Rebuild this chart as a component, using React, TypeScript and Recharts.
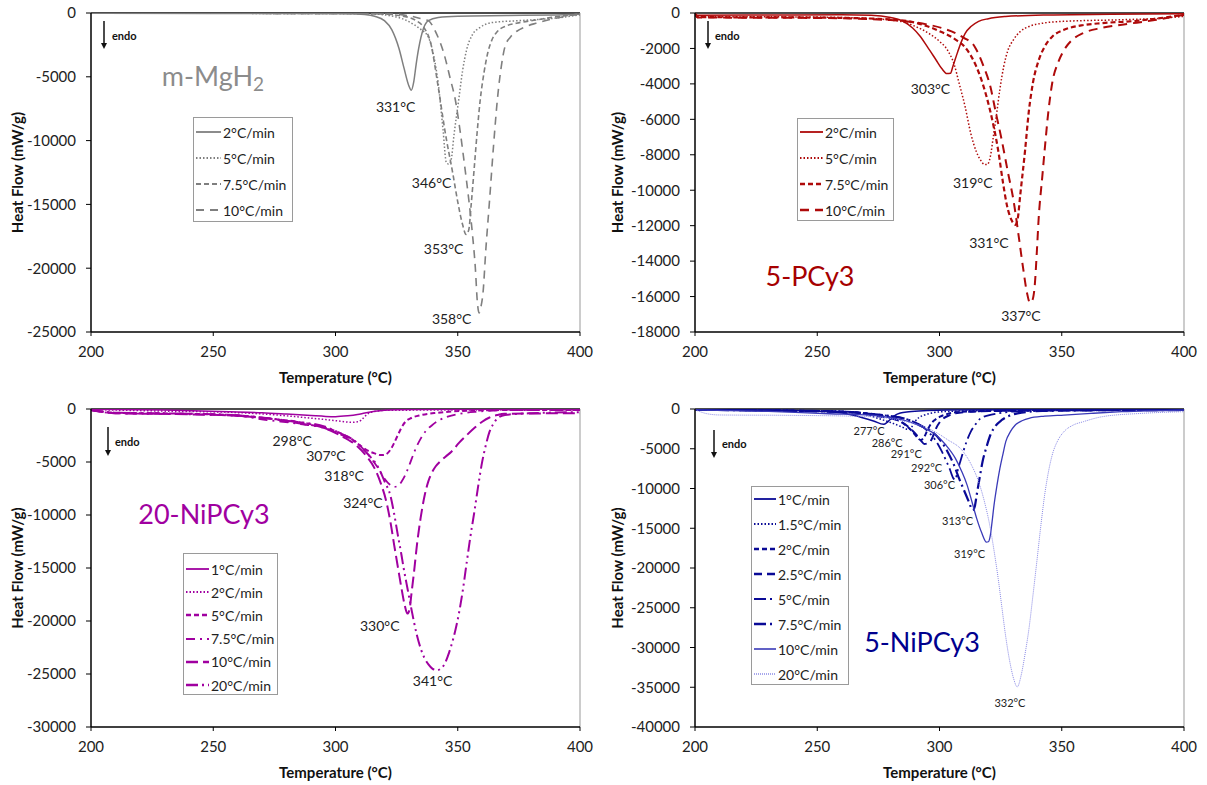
import React from 'react';
import { LineChart, Line, XAxis, YAxis, ReferenceLine, ReferenceDot } from 'recharts';

type Pt = [number, number];

// ---- m-MgH2 (temperature °C, heat flow mW/g)
const mg2: Pt[] = [[200, -20], [250, -30], [290, -40], [305, -60], [312, -120], [316, -250], [320, -600], [323, -1300], [326, -2800], [328, -4300], [330, -5700], [331, -6050], [332, -5400], [333, -4000], [334, -2800], [336, -1200], [338, -600], [342, -350], [350, -250], [370, -200], [390, -150], [400, -100]];
const mg5: Pt[] = [[200, -20], [300, -40], [315, -80], [322, -200], [328, -500], [332, -900], [335, -1300], [338, -1900], [340, -3200], [342, -5500], [344, -9200], [345.3, -11700], [346.3, -11850], [347.3, -11500], [348.5, -9500], [350.4, -6800], [352, -4500], [353.6, -2900], [356, -1700], [359, -1150], [364, -750], [375, -600], [390, -400], [400, -150]];
const mg75: Pt[] = [[200, -20], [300, -30], [320, -80], [326, -200], [330, -350], [333, -600], [336, -1100], [339, -2400], [342, -5800], [345, -9500], [348, -12600], [350, -14800], [352, -16600], [353.4, -17350], [354.5, -17000], [355.5, -15000], [356.8, -12000], [358, -9200], [359.2, -6800], [360.8, -4600], [362.3, -3100], [364, -2100], [366.2, -1450], [370, -1000], [374, -800], [382, -550], [390, -300], [400, -100]];
const mg10: Pt[] = [[200, -20], [300, -30], [325, -100], [332, -300], [336, -500], [338, -600], [341, -1500], [344.3, -3150], [347, -5200], [349, -6800], [351, -9300], [352.9, -12100], [354.5, -14600], [356, -17300], [357.2, -20000], [358, -22600], [358.7, -23500], [359.5, -23000], [360.3, -22000], [361.5, -18500], [363, -14700], [364.6, -10500], [366.2, -6800], [367.8, -4200], [369.3, -2650], [371.5, -1900], [374, -1450], [378, -1050], [382, -800], [393, -300], [400, -50]];

// ---- 5-PCy3
const pc2: Pt[] = [[200, -10], [201, -120], [230, -110], [260, -100], [272, -120], [280, -250], [285, -450], [289, -850], [292, -1300], [295, -1900], [298.6, -2650], [301, -3150], [303, -3420], [304.5, -3400], [305.5, -3000], [307.3, -2250], [309, -1600], [310.5, -1150], [313, -750], [316, -470], [320, -320], [327, -200], [343, -110], [370, -70], [400, -40]];
const pc5: Pt[] = [[200, -50], [201, -200], [250, -230], [270, -300], [280, -400], [285, -500], [290, -750], [295.4, -1130], [300, -1600], [303.3, -2100], [306, -2900], [308, -3950], [310.5, -5300], [312.8, -6800], [315, -7800], [316.8, -8300], [318.5, -8550], [319.5, -8550], [320.8, -8100], [322, -7000], [323.2, -5850], [324.7, -4300], [326.3, -3000], [328, -2100], [330.3, -1500], [333, -1050], [336.6, -760], [343, -560], [350.8, -470], [374.6, -380], [390, -300], [400, -190]];
const pc75: Pt[] = [[200, -50], [201, -230], [250, -260], [275, -330], [287.5, -470], [295, -750], [300.3, -1040], [306, -1450], [311.3, -2080], [315, -3000], [319.2, -4700], [322, -6300], [324, -7750], [326, -9600], [327.5, -10800], [329.5, -11700], [331, -11950], [332, -11600], [333, -10300], [335, -7750], [336.5, -5600], [338.2, -3950], [340.5, -2700], [343, -1900], [346, -1350], [350.9, -950], [358, -700], [366.7, -570], [380, -450], [400, -100]];
const pc10: Pt[] = [[200, -50], [201, -250], [250, -280], [280, -400], [295.4, -660], [301, -850], [306.5, -1130], [310, -1400], [314.4, -1900], [318, -3000], [320.8, -4150], [323, -5600], [325.5, -7200], [328, -9000], [330.3, -10600], [332.3, -12500], [334.2, -14400], [335.8, -15800], [337, -16350], [338, -16200], [339, -15300], [339.8, -13500], [340.6, -11500], [342, -9300], [343, -7750], [344.5, -5600], [346.1, -3950], [348.5, -2800], [350.9, -2100], [354, -1550], [358.8, -1130], [366, -850], [374.6, -660], [388, -400], [400, -100]];

// ---- 20-NiPCy3
const ni1: Pt[] = [[200, -30], [230, -100], [256.6, -250], [270, -350], [280, -480], [290, -620], [296, -700], [300, -720], [305, -640], [309, -520], [312, -380], [316, -220], [320, -120], [330, -50], [350, -20], [400, 0]];
const ni2: Pt[] = [[200, -50], [230, -200], [256.6, -310], [275, -550], [288, -820], [296, -1000], [302, -1150], [306.7, -1260], [309, -1200], [310.5, -1050], [312, -700], [313.5, -420], [316, -230], [320, -130], [340, -100], [400, -100]];
const ni5: Pt[] = [[200, -100], [210, -350], [240, -450], [260, -600], [272, -880], [288, -1350], [300.5, -2140], [306, -2750], [309.9, -3400], [313, -3900], [316, -4190], [318.5, -4350], [320, -4330], [322.4, -3870], [324, -3200], [325.5, -2460], [327, -1750], [328.6, -1200], [331, -850], [335, -570], [342, -350], [350.6, -190], [370, -100], [400, -100]];
const ni75: Pt[] = [[200, -100], [210, -400], [240, -500], [260, -650], [272, -1040], [285, -1400], [295.8, -1830], [301, -2300], [306.7, -2930], [311, -3700], [314.6, -4660], [317.5, -5600], [320, -6550], [322.3, -7150], [324, -7350], [325.5, -7250], [327, -6860], [328.6, -6200], [330.2, -5290], [332.5, -3900], [334.9, -2770], [337, -2050], [339.6, -1510], [342.5, -1050], [345.9, -720], [352, -400], [358.4, -250], [370, -100], [400, -100]];
const ni10: Pt[] = [[200, -100], [210, -400], [240, -500], [260, -650], [272, -880], [285, -1350], [295.8, -1830], [302, -2500], [308.3, -3400], [312.5, -4400], [316, -5600], [318.5, -7000], [320.8, -8750], [322.5, -10700], [324, -12840], [325.5, -14900], [327, -16930], [328.3, -18500], [329.4, -19300], [330.3, -18900], [331, -17560], [332.2, -15200], [333.3, -12840], [334.8, -10300], [336.5, -8120], [338, -6800], [339.6, -5920], [341, -5400], [342.7, -4970], [345, -4500], [347.4, -4030], [350.5, -3200], [353.7, -2460], [357, -1750], [360, -1200], [363, -800], [366.2, -570], [369, -450], [380, -420], [400, -400]];
const ni20: Pt[] = [[200, -100], [210, -350], [240, -450], [260, -600], [280, -1100], [295.8, -1670], [302, -2300], [308.3, -3080], [313, -4200], [317.7, -5600], [320.2, -6900], [322.4, -8120], [324, -9900], [325.5, -11900], [327, -13800], [327.9, -15050], [329.5, -17000], [331, -18820], [333.3, -21340], [335, -22700], [336.5, -23540], [338, -24100], [339.6, -24490], [341.5, -24650], [343, -24500], [344.3, -24180], [345.8, -23400], [347.4, -22290], [349, -20900], [350.6, -19140], [352.2, -16900], [353.7, -14420], [355.2, -12000], [356.8, -9690], [358.4, -7200], [360, -4970], [361.5, -3400], [363, -2140], [364.6, -1400], [366.2, -880], [369.3, -570], [380, -400], [400, -300]];

// ---- 5-NiPCy3
const nb1: Pt[] = [[200, -80], [230, -150], [255.8, -340], [262, -600], [268.5, -1090], [273, -1500], [277.2, -1930], [278.5, -1700], [279.6, -1380], [281, -1050], [282, -760], [284, -500], [287.5, -340], [295, -200], [303, -130], [330, -100], [400, -80]];
const nb15: Pt[] = [[200, -80], [230, -150], [263.7, -340], [270, -700], [274.8, -1170], [280, -1700], [285.9, -2430], [287, -2580], [288.3, -2400], [289.9, -1600], [291.5, -1100], [293.8, -760], [297, -500], [301, -340], [320, -200], [360, -150], [400, -130]];
const nb2: Pt[] = [[200, -100], [240, -200], [262, -340], [275, -800], [282.7, -1380], [286, -2000], [289, -2850], [291, -3600], [292.2, -3900], [293, -3800], [293.8, -3480], [295, -2700], [296.2, -2010], [298, -1400], [300.2, -970], [303, -650], [306.5, -420], [320, -250], [360, -150], [400, -100]];
const nb25: Pt[] = [[200, -100], [240, -200], [262, -340], [275, -900], [284.3, -1600], [287.5, -2300], [290.6, -3270], [292.5, -4000], [293.8, -4400], [294.8, -4350], [296.2, -4110], [297.5, -3300], [298.6, -2430], [300, -1700], [301.7, -1170], [304, -800], [306.5, -550], [315, -300], [360, -150], [400, -130]];
const nb5: Pt[] = [[200, -100], [240, -250], [262, -400], [275, -700], [287.5, -1380], [295.4, -2850], [298.5, -4000], [301, -5370], [303, -6700], [304.1, -7470], [305.7, -8730], [306.5, -8900], [307.3, -7890], [308.5, -6600], [309.7, -5370], [311.2, -4000], [312.8, -2850], [314.8, -1900], [316.8, -1170], [320, -800], [323.9, -550], [335, -250], [360, -150], [400, -130]];
const nb75: Pt[] = [[200, -100], [240, -250], [262, -400], [275, -700], [287.5, -1380], [293, -2200], [297, -2850], [300.5, -4000], [303.3, -5370], [306, -7100], [308, -8730], [310, -10200], [312, -11660], [313.6, -12720], [314.4, -12300], [315.2, -10830], [316.4, -8700], [317.6, -6630], [319.2, -4800], [320.8, -3270], [323, -2100], [325.5, -1380], [328.5, -850], [331.9, -550], [342, -250], [370, -150], [400, -130]];
const nb10: Pt[] = [[200, -100], [230, -300], [255, -600], [271.6, -760], [280, -1100], [287.5, -1600], [293, -2300], [298.6, -3270], [302.5, -4500], [306.5, -6210], [309, -7800], [311.3, -9570], [313.3, -11700], [315.2, -13760], [317.3, -15600], [319.2, -16750], [320, -16700], [320.8, -15860], [321.5, -14200], [322.3, -12090], [323.5, -9600], [324.7, -7470], [326, -5600], [327.1, -4110], [329, -2850], [331, -2010], [334, -1450], [336.6, -1170], [343, -900], [350.9, -760], [362, -550], [374.6, -340], [400, -130]];
const nb20: Pt[] = [[200, -100], [205, -600], [210, -750], [240, -800], [271.6, -960], [285, -1500], [295.4, -2430], [303, -3800], [309.7, -5370], [313, -7000], [316, -9150], [318.5, -11800], [320.8, -15020], [322.5, -18200], [324, -21320], [325.5, -24900], [327, -28450], [328.7, -31700], [330.3, -33900], [331.8, -34950], [333.4, -33490], [335, -30800], [336.6, -27610], [338.2, -23500], [339.8, -19220], [341.4, -14800], [343, -10830], [344.5, -8000], [346.1, -5790], [348.5, -3900], [350.9, -2850], [354.5, -2050], [358.8, -1600], [366.7, -960], [382.6, -550], [400, -340]];

// peak labels
const mgPeaks = ['331°C', '346°C', '353°C', '358°C'];
const mgPeakPos: Pt[] = [[324.6, -7390], [339.3, -13360], [344.2, -18470], [347.5, -23980]];
const pcPeaks = ['303°C', '319°C', '331°C', '337°C'];
const pcPeakPos: Pt[] = [[296.3, -4300], [313.6, -9570], [320.2, -12960], [333.3, -17090]];
const niPeaks = ['298°C', '307°C', '318°C', '324°C', '330°C', '341°C'];
const niPeakPos: Pt[] = [[282.3, -3020], [296.1, -4430], [303.5, -6320], [311.2, -8870], [318.1, -20470], [339.7, -25660]];
const nbPeaks = ['277°C', '286°C', '291°C', '292°C', '306°C', '313°C', '319°C', '332°C'];
const nbPeakPos: Pt[] = [[271.2, -2770], [278.6, -4280], [286.4, -5660], [294.7, -7420], [300, -9560], [307.4, -14090], [312.3, -18240], [328.8, -36980]];

const xTicks = [200, 250, 300, 350, 400];
const mgTicks = [0, -5000, -10000, -15000, -20000, -25000];
const pcTicks = [0, -2000, -4000, -6000, -8000, -10000, -12000, -14000, -16000, -18000];
const niTicks = [0, -5000, -10000, -15000, -20000, -25000, -30000];
const nbTicks = [0, -5000, -10000, -15000, -20000, -25000, -30000, -35000, -40000];

const FONT = 'Lato, "Open Sans", sans-serif';

type Series = { name: string; pts: Pt[]; color: string; width: number; dash?: string };

const GRAY = '#7f7f7f';
const RED = '#ae0a0a';
const PURPLE = '#a000a0';
const NAVY = '#0a0a96';

const mgSeries: Series[] = [
  { name: '2°C/min', pts: mg2, color: GRAY, width: 1.5 },
  { name: '5°C/min', pts: mg5, color: GRAY, width: 1.5, dash: '1.5 2' },
  { name: '7.5°C/min', pts: mg75, color: GRAY, width: 1.6, dash: '5 3' },
  { name: '10°C/min', pts: mg10, color: GRAY, width: 1.6, dash: '8 6' },
];
const pcSeries: Series[] = [
  { name: '2°C/min', pts: pc2, color: RED, width: 1.5 },
  { name: '5°C/min', pts: pc5, color: RED, width: 1.5, dash: '1.5 2' },
  { name: '7.5°C/min', pts: pc75, color: RED, width: 2.2, dash: '5 3' },
  { name: '10°C/min', pts: pc10, color: RED, width: 2, dash: '9 6' },
];
const niSeries: Series[] = [
  { name: '1°C/min', pts: ni1, color: PURPLE, width: 1.5 },
  { name: '2°C/min', pts: ni2, color: PURPLE, width: 1.5, dash: '1.5 2' },
  { name: '5°C/min', pts: ni5, color: PURPLE, width: 2, dash: '5 3' },
  { name: '7.5°C/min', pts: ni75, color: PURPLE, width: 1.8, dash: '9 5 2 5' },
  { name: '10°C/min', pts: ni10, color: PURPLE, width: 2, dash: '12 5' },
  { name: '20°C/min', pts: ni20, color: PURPLE, width: 2, dash: '12 4 2 4 2 4' },
];
const nbSeries: Series[] = [
  { name: '1°C/min', pts: nb1, color: NAVY, width: 1.5 },
  { name: '1.5°C/min', pts: nb15, color: NAVY, width: 1.5, dash: '1.5 2' },
  { name: '2°C/min', pts: nb2, color: NAVY, width: 2, dash: '5 3' },
  { name: '2.5°C/min', pts: nb25, color: NAVY, width: 2, dash: '8 5' },
  { name: '5°C/min', pts: nb5, color: NAVY, width: 1.8, dash: '12 4 2 4 2 4' },
  { name: '7.5°C/min', pts: nb75, color: NAVY, width: 2.2, dash: '12 4 2 4' },
  { name: '10°C/min', pts: nb10, color: '#3a3ab8', width: 1.3 },
  { name: '20°C/min', pts: nb20, color: '#8a8ae6', width: 1, dash: '1 1' },
];

const rows = (pts: Pt[]) => pts.map(([t, v]) => ({ t, v }));

type LegendSpec = { left: number; top: number; w: number; h: number; first: number; step: number; sw: number };

type PanelProps = {
  left: number;
  top: number;
  w: number;
  yW: number;
  mTop: number;
  xH: number;
  ticks: number[];
  series: Series[];
  notes: string[];
  notePos: Pt[];
  noteSize: number;
  legend: LegendSpec;
  arrow: { x: number; y1: number; y2: number; tx: number; ty: number };
  title: React.ReactNode;
};

const Panel = (p: PanelProps) => {
  const min = p.ticks[p.ticks.length - 1];
  const plotW = 489;
  const plotBottom = 390 - p.xH;
  return (
    <div style={{ position: 'absolute', left: p.left, top: p.top, width: p.w, height: 390 }}>
      <LineChart width={p.w} height={390} margin={{ top: p.mTop, right: p.w - p.yW - plotW, bottom: 0, left: 0 }}>
        <XAxis
          type="number"
          dataKey="t"
          domain={[200, 400]}
          ticks={xTicks}
          height={p.xH}
          allowDataOverflow
          tick={{ fill: '#222', fontSize: 15, fontFamily: FONT }}
          tickSize={4}
          tickMargin={10}
          axisLine={{ stroke: '#000', strokeWidth: 1.5 }}
          tickLine={{ stroke: '#000' }}
          label={{
            content: () => (
              <text x={p.yW + plotW / 2} y={plotBottom + 45} textAnchor="middle" dominantBaseline="central" fontFamily={FONT} fontWeight={700} fontSize={15} fill="#111">
                Temperature (°C)
              </text>
            ),
          }}
        />
        <YAxis
          type="number"
          dataKey="v"
          domain={[min, 0]}
          ticks={p.ticks}
          width={p.yW}
          allowDataOverflow
          tick={{ fill: '#222', fontSize: 15, fontFamily: FONT }}
          tickSize={5}
          tickMargin={10}
          axisLine={{ stroke: '#000', strokeWidth: 1.5 }}
          tickLine={{ stroke: '#000' }}
          label={{
            content: () => {
              const cy = p.mTop + (plotBottom - p.mTop) / 2;
              return (
                <text x={17} y={cy} transform={`rotate(-90, 17, ${cy})`} textAnchor="middle" dominantBaseline="central" fontFamily={FONT} fontWeight={700} fontSize={15} fill="#111">
                  Heat Flow (mW/g)
                </text>
              );
            },
          }}
        />
        <ReferenceLine y={0} stroke="#111" strokeWidth={1.5} />
        <ReferenceLine x={400} stroke="#999" strokeWidth={1} />
        {p.series.map((s) => (
          <Line
            key={s.name}
            data={rows(s.pts)}
            dataKey="v"
            type="monotone"
            stroke={s.color}
            strokeWidth={s.width}
            strokeDasharray={s.dash}
            dot={false}
            activeDot={false}
            isAnimationActive={false}
          />
        ))}
        {p.notes.map((n, i) => (
          <ReferenceDot
            key={n + i}
            x={p.notePos[i][0]}
            y={p.notePos[i][1]}
            r={1}
            fill="none"
            stroke="none"
            label={{ value: n, position: 'center', fill: '#222', fontSize: p.noteSize, fontFamily: FONT }}
          />
        ))}
      </LineChart>
      {/* endo arrow */}
      <svg style={{ position: 'absolute', left: 0, top: 0, pointerEvents: 'none' }} width={p.w} height={390}>
        <line x1={p.arrow.x} y1={p.arrow.y1} x2={p.arrow.x} y2={p.arrow.y2 - 5} stroke="#111" strokeWidth={1.5} />
        <polygon points={`${p.arrow.x - 3},${p.arrow.y2 - 6} ${p.arrow.x + 3},${p.arrow.y2 - 6} ${p.arrow.x},${p.arrow.y2}`} fill="#111" />
        <text x={p.arrow.tx} y={p.arrow.ty} dominantBaseline="central" fontFamily={FONT} fontWeight={700} fontSize={11} fill="#111">
          endo
        </text>
      </svg>
      {/* legend */}
      <div
        style={{
          position: 'absolute',
          left: p.legend.left,
          top: p.legend.top,
          width: p.legend.w,
          height: p.legend.h,
          border: '1px solid #9a9a9a',
          background: '#fff',
          boxSizing: 'border-box',
        }}
      >
        {p.series.map((s, i) => (
          <div
            key={s.name}
            style={{
              position: 'absolute',
              left: 2,
              top: p.legend.first + i * p.legend.step - 9,
              height: 18,
              display: 'flex',
              alignItems: 'center',
              fontFamily: FONT,
              fontSize: 14,
              color: '#222',
              whiteSpace: 'nowrap',
            }}
          >
            <svg width={p.legend.sw} height={8} style={{ marginRight: 2 }}>
              <line x1={0} y1={4} x2={p.legend.sw} y2={4} stroke={s.color} strokeWidth={s.width + 0.3} strokeDasharray={s.dash} />
            </svg>
            {s.name}
          </div>
        ))}
      </div>
      {p.title}
    </div>
  );
};

const titleStyle = (left: number, top: number, color: string): React.CSSProperties => ({
  position: 'absolute',
  left,
  top,
  transform: 'translate(-50%, -50%)',
  fontFamily: FONT,
  fontSize: 27,
  color,
  whiteSpace: 'nowrap',
});

export default function App() {
  return (
    <div style={{ position: 'absolute', left: 0, top: 0, width: 1207, height: 785, background: '#fff', overflow: 'hidden' }}>
      <Panel
        left={0}
        top={0}
        w={600}
        yW={91}
        mTop={13}
        xH={58}
        ticks={mgTicks}
        series={mgSeries}
        notes={mgPeaks}
        notePos={mgPeakPos}
        noteSize={14}
        legend={{ left: 193, top: 117, w: 100, h: 105, first: 14, step: 26, sw: 25 }}
        arrow={{ x: 104, y1: 21, y2: 49, tx: 112, ty: 35 }}
        title={
          <div style={titleStyle(213, 75, '#8c8c8c')}>
            m-MgH<span style={{ fontSize: 19, position: 'relative', top: 5 }}>2</span>
          </div>
        }
      />
      <Panel
        left={600}
        top={0}
        w={607}
        yW={95}
        mTop={13}
        xH={58}
        ticks={pcTicks}
        series={pcSeries}
        notes={pcPeaks}
        notePos={pcPeakPos}
        noteSize={14}
        legend={{ left: 197, top: 118, w: 97, h: 103, first: 13, step: 26, sw: 23 }}
        arrow={{ x: 108, y1: 21, y2: 49, tx: 115, ty: 35 }}
        title={<div style={titleStyle(210, 275, '#a60000')}>5-PCy3</div>}
      />
      <Panel
        left={0}
        top={395}
        w={600}
        yW={91}
        mTop={14}
        xH={58}
        ticks={niTicks}
        series={niSeries}
        notes={niPeaks}
        notePos={niPeakPos}
        noteSize={14}
        legend={{ left: 183, top: 158, w: 95, h: 142, first: 15, step: 23.2, sw: 23 }}
        arrow={{ x: 108, y1: 32, y2: 61, tx: 115, ty: 46 }}
        title={<div style={titleStyle(204, 118, PURPLE)}>20-NiPCy3</div>}
      />
      <Panel
        left={600}
        top={395}
        w={607}
        yW={95}
        mTop={14}
        xH={58}
        ticks={nbTicks}
        series={nbSeries}
        notes={nbPeaks}
        notePos={nbPeakPos}
        noteSize={11}
        legend={{ left: 151, top: 91, w: 98, h: 199, first: 12, step: 25, sw: 22 }}
        arrow={{ x: 114, y1: 35, y2: 63, tx: 122, ty: 48 }}
        title={<div style={titleStyle(322, 246, '#00008e')}>5-NiPCy3</div>}
      />
    </div>
  );
}
